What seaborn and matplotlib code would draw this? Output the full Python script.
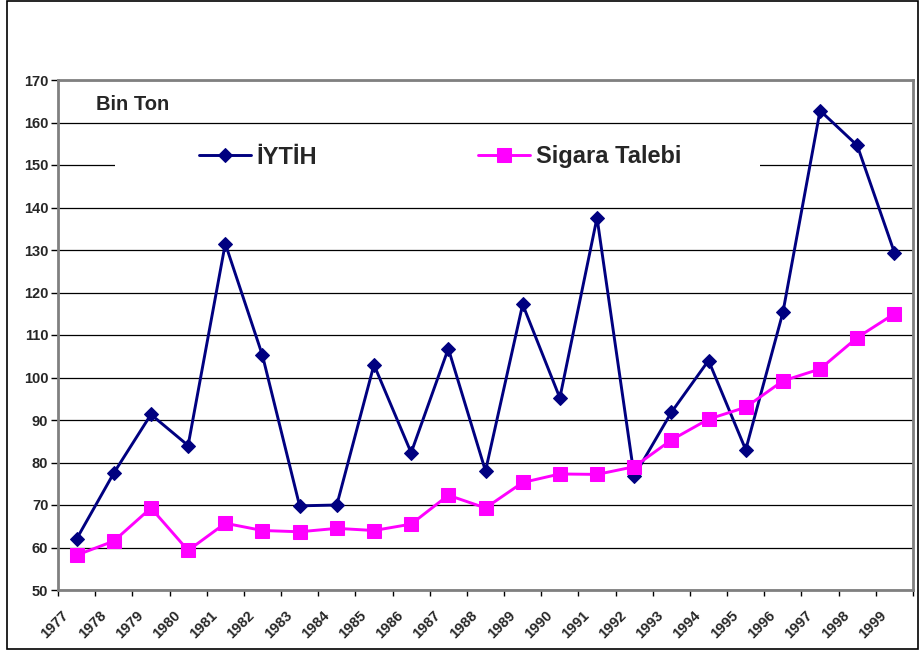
import matplotlib
matplotlib.use('Agg')
import matplotlib.pyplot as plt
import seaborn as sns
import numpy as np
import pandas as pd
from matplotlib.patches import Rectangle

years = [str(y) for y in range(1977, 2000)]
iytih = [62.0, 77.5, 91.3, 84.0, 131.5, 105.2, 69.8, 70.0, 103.0, 82.3, 106.8, 78.0,
         117.2, 95.2, 137.6, 76.8, 91.8, 104.0, 83.0, 115.3, 162.8, 154.6, 129.4]
sigara = [58.2, 61.5, 69.3, 59.3, 65.7, 64.0, 63.7, 64.5, 64.0, 65.5, 72.3, 69.3,
          75.3, 77.3, 77.2, 79.0, 85.3, 90.2, 93.0, 99.2, 102.0, 109.4, 115.0]
y_ticks = list(range(50, 171, 10))

sns.set_style('white')
plt.rcParams['font.family'] = ['Liberation Sans', 'DejaVu Sans']

df = pd.DataFrame({'pos': np.arange(len(years)), 'year': years,
                   'İYTİH': iytih, 'Sigara Talebi': sigara})

fig = plt.figure(figsize=(9.21, 6.55), dpi=100)
ax = fig.add_axes([58/921, 1-590/655, 855/921, 510/655])

# outer chart border
fig.patches.append(Rectangle((7/921, 1-649/655), 911/921, 648/655, transform=fig.transFigure,
                             fill=False, edgecolor='black', linewidth=1.2))

for yv in y_ticks:
    ax.axhline(yv, color='black', linewidth=0.9, zorder=1)

sns.lineplot(data=df, x='pos', y='İYTİH', ax=ax, color='#000080', marker='D',
             markersize=7.5, markeredgecolor='#000080', linewidth=2.1, label='İYTİH', zorder=3)
sns.lineplot(data=df, x='pos', y='Sigara Talebi', ax=ax, color='#FF00FF', marker='s',
             markersize=9.5, markeredgecolor='#FF00FF', linewidth=2.1, label='Sigara Talebi', zorder=3)

ax.set_xlim(-0.5, len(years) - 0.5)
ax.set_ylim(50, 170)
ax.set_xlabel('')
ax.set_ylabel('')

# ticks at category boundaries, labels offset slightly
ax.set_xticks(np.arange(len(years) + 1) - 0.5)
ax.set_xticklabels([])
ax.set_xticks(np.arange(len(years)) - 0.4, minor=True)
ax.set_xticklabels(years, minor=True, rotation=45, ha='right', va='top',
                   rotation_mode='anchor', fontsize=10.5, fontweight='bold')
ax.tick_params(axis='x', which='major', direction='out', length=4, width=1, color='black', bottom=True)
ax.tick_params(axis='x', which='minor', length=0, pad=13)

ax.set_yticks(y_ticks)
ax.set_yticklabels([str(v) for v in y_ticks], fontsize=10.5, fontweight='bold')
ax.tick_params(axis='y', direction='out', length=5, width=1, color='black', left=True, pad=2)

for side in ['left', 'right', 'top', 'bottom']:
    ax.spines[side].set_visible(True)
    ax.spines[side].set_color('#808080')
    ax.spines[side].set_linewidth(2)

ax.text(0.045, (590-104.5)/510, 'Bin Ton', transform=ax.transAxes, fontsize=14.5,
        fontweight='bold', ha='left', va='center')

# white legend background covering the grid line
ax.add_patch(Rectangle(((115-58)/855, (590-175)/510), (760-115)/855, 35/510,
                       transform=ax.transAxes, facecolor='white', edgecolor='none', zorder=2))

leg = ax.legend(loc='center', bbox_to_anchor=((440-58)/855, (590-157)/510),
                ncol=2, frameon=False, prop={'size': 17, 'weight': 'bold'}, handlelength=2.2,
                handletextpad=0.25, columnspacing=6.8, borderpad=0.2)
leg.set_zorder(4)

fig.savefig('out.png', dpi=100)
